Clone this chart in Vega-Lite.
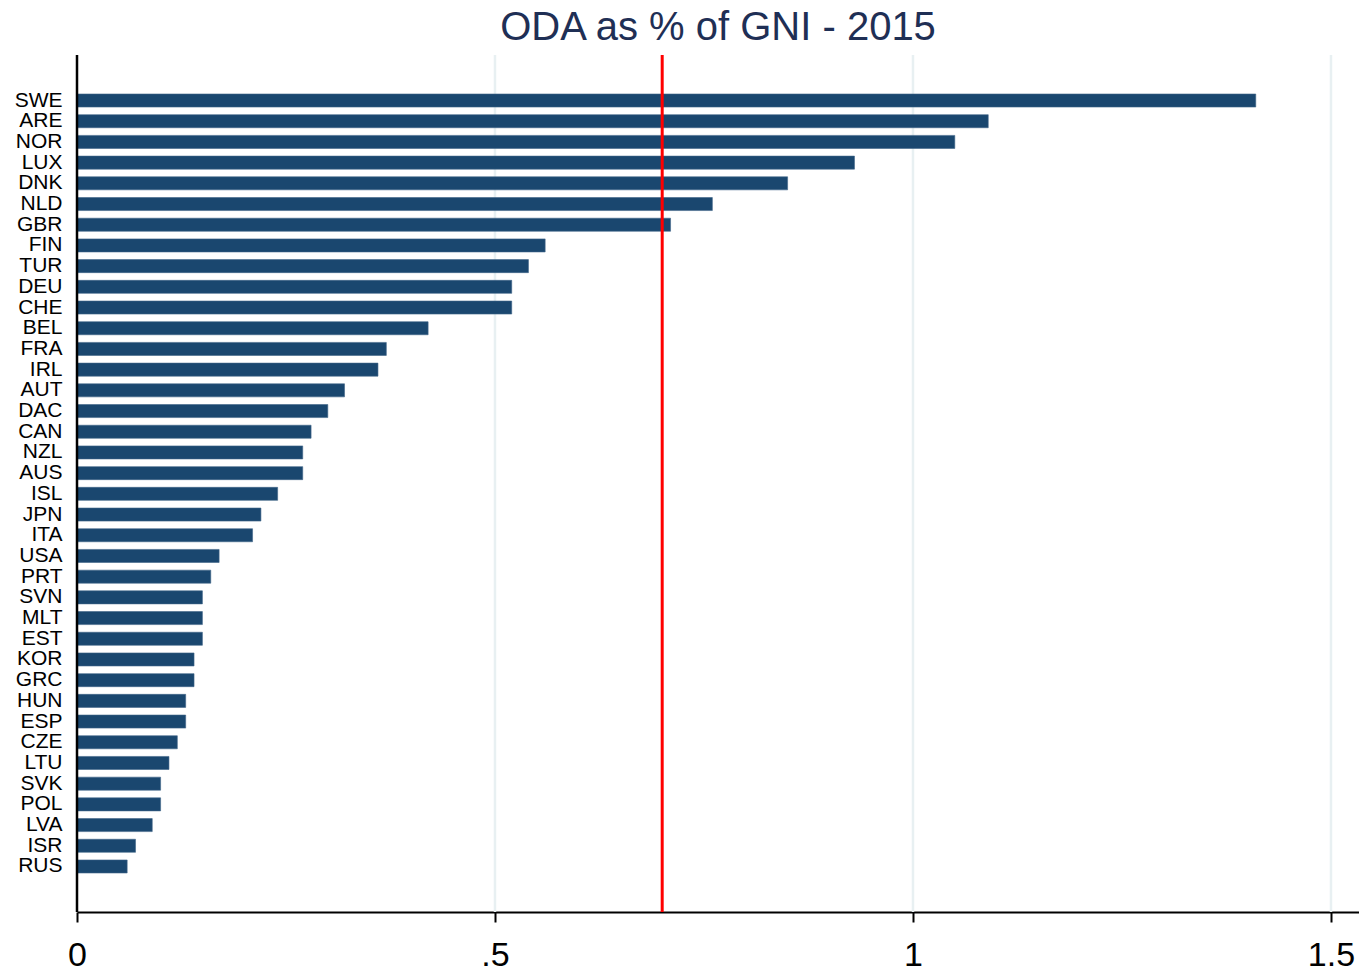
{
  "$schema": "https://vega.github.io/schema/vega-lite/v6.json",
  "autosize": "none",
  "width": 1282,
  "height": 857,
  "padding": {"left": 77, "top": 55, "right": 0, "bottom": 60},
  "background": "white",
  "title": {
    "text": "ODA as % of GNI - 2015",
    "anchor": "middle",
    "fontSize": 40,
    "font": "Liberation Sans",
    "fontWeight": "normal",
    "color": "#1f2f55",
    "offset": 6
  },
  "config": {
    "view": {"stroke": null},
    "axis": {"labelFont": "Liberation Sans", "titleFont": "Liberation Sans"}
  },
  "datasets": {
    "oda": [
      {"country": "SWE", "oda": 1.41},
      {"country": "ARE", "oda": 1.09},
      {"country": "NOR", "oda": 1.05},
      {"country": "LUX", "oda": 0.93},
      {"country": "DNK", "oda": 0.85},
      {"country": "NLD", "oda": 0.76},
      {"country": "GBR", "oda": 0.71},
      {"country": "FIN", "oda": 0.56},
      {"country": "TUR", "oda": 0.54},
      {"country": "DEU", "oda": 0.52},
      {"country": "CHE", "oda": 0.52},
      {"country": "BEL", "oda": 0.42},
      {"country": "FRA", "oda": 0.37},
      {"country": "IRL", "oda": 0.36},
      {"country": "AUT", "oda": 0.32},
      {"country": "DAC", "oda": 0.30},
      {"country": "CAN", "oda": 0.28},
      {"country": "NZL", "oda": 0.27},
      {"country": "AUS", "oda": 0.27},
      {"country": "ISL", "oda": 0.24},
      {"country": "JPN", "oda": 0.22},
      {"country": "ITA", "oda": 0.21},
      {"country": "USA", "oda": 0.17},
      {"country": "PRT", "oda": 0.16},
      {"country": "SVN", "oda": 0.15},
      {"country": "MLT", "oda": 0.15},
      {"country": "EST", "oda": 0.15},
      {"country": "KOR", "oda": 0.14},
      {"country": "GRC", "oda": 0.14},
      {"country": "HUN", "oda": 0.13},
      {"country": "ESP", "oda": 0.13},
      {"country": "CZE", "oda": 0.12},
      {"country": "LTU", "oda": 0.11},
      {"country": "SVK", "oda": 0.10},
      {"country": "POL", "oda": 0.10},
      {"country": "LVA", "oda": 0.09},
      {"country": "ISR", "oda": 0.07},
      {"country": "RUS", "oda": 0.06}
    ],
    "grid": [{"v": 0.5}, {"v": 1}, {"v": 1.5}],
    "zero": [{"v": 0}],
    "target": [{"target": 0.7}]
  },
  "layer": [
    {
      "data": {"name": "grid"},
      "mark": {"type": "rule", "color": "#e8f0f2", "strokeWidth": 2.5},
      "encoding": {
        "x": {"field": "v", "type": "quantitative"}
      }
    },
    {
      "data": {"name": "oda"},
      "mark": {"type": "bar", "color": "#1a476f", "stroke": "#3f6488", "strokeWidth": 0.6},
      "encoding": {
        "y": {
          "field": "country",
          "type": "nominal",
          "sort": null,
          "scale": {"paddingInner": 0.37, "paddingOuter": 1, "range": [18.3, 838.7]},
          "axis": {
            "title": null,
            "ticks": false,
            "domain": false,
            "labelFontSize": 21,
            "labelColor": "#000000",
            "labelPadding": 15,
            "labelBaseline": "middle"
          }
        },
        "x": {
          "field": "oda",
          "type": "quantitative",
          "scale": {"domain": [0, 1.5335], "nice": false, "zero": true},
          "axis": {
            "title": null,
            "values": [0, 0.5, 1, 1.5],
            "labelExpr": "datum.value == 0 ? '0' : datum.value == 0.5 ? '.5' : datum.value == 1 ? '1' : '1.5'",
            "labelFontSize": 34,
            "labelColor": "#000000",
            "labelPadding": 16,
            "labelFlush": false,
            "tickSize": 10,
            "tickWidth": 2,
            "tickColor": "#000000",
            "domainColor": "#000000",
            "domainWidth": 2,
            "grid": false
          }
        }
      }
    },
    {
      "data": {"name": "zero"},
      "mark": {"type": "rule", "color": "#000000", "strokeWidth": 2.5},
      "encoding": {
        "x": {"field": "v", "type": "quantitative"}
      }
    },
    {
      "data": {"name": "target"},
      "mark": {"type": "rule", "color": "#ff0000", "strokeWidth": 3},
      "encoding": {
        "x": {"field": "target", "type": "quantitative"}
      }
    }
  ]
}
